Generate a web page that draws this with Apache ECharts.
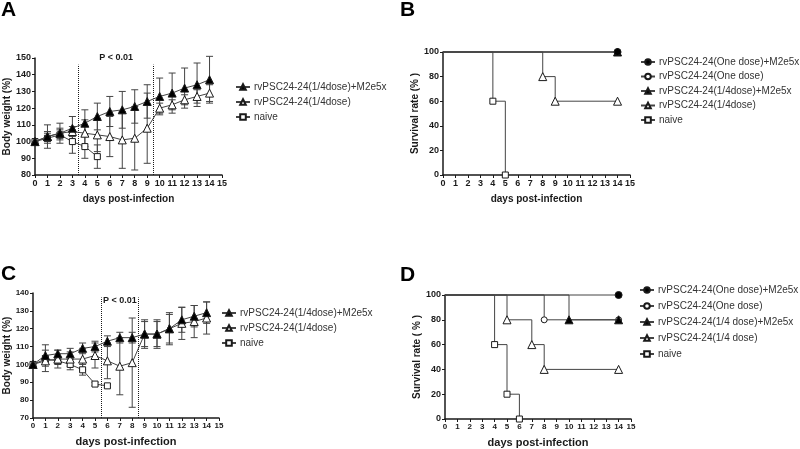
<!DOCTYPE html>
<html><head><meta charset="utf-8">
<script src="https://cdn.jsdelivr.net/npm/echarts@6/dist/echarts.min.js"></script>
<style>html,body{margin:0;padding:0;background:#fff}#c{width:800px;height:449px}</style>
</head><body><div id="c"></div>
<script>
// ---------- data ----------
const days = [0,1,2,3,4,5,6,7,8,9,10,11,12,13,14];
const xTicks = [0,1,2,3,4,5,6,7,8,9,10,11,12,13,14,15];

// Panel A: body weight (%)
const A_m2e    = [100,103,105,108,111,115,118,119,121,124,127,129,132,134,137];
const A_m2eSD  = [0,7,6,7,8,8,9,11,10,10,11,12,12,13,14];
const A_quart  = [100,103,105,106,105,104,103,101,102,108,120,122,125,127,129];
const A_quartSD= [0,3,3,3,8,10,12,17,19,21,3,3,3,4,5];
const A_naive  = [100,102,104,100,97,91];
const A_naiveSD= [0,3,3,7,7,7];

// Panel C: body weight (%)
const C_m2e    = [100,105,106,106,109,110,113,115,115,117,117,120,125,127,129];
const C_m2eSD  = [0,6,2,3,3,3,3,3,3,7,8,9,7,6,6];
const C_quart  = [100,102,103,103,103,105,102,99,101,117,117,120,123,124,126];
const C_quartSD= [0,6,5,4,6,7,10,16,25,8,7,8,9,9,9];
const C_naive  = [100,103,102,100,97,89,88];
const C_naiveSD= [0,2,2,3,3,1,1];

// Panel B: survival (%) - event days and values
const B_oneM2e_d = [0,14],        B_oneM2e_v = [100,100];
const B_one_d    = [0,14],        B_one_v    = [100,100];
const B_qM2e_d   = [0,14],        B_qM2e_v   = [100,100];
const B_q_d      = [0,8,9,14],    B_q_v      = [100,80,60,60];
const B_naive_d  = [0,4,5],       B_naive_v  = [100,60,0];

// Panel D: survival (%)
const D_oneM2e_d = [0,14],        D_oneM2e_v = [100,100];
const D_one_d    = [0,8,14],      D_one_v    = [100,80,80];
const D_qM2e_d   = [0,10,14],     D_qM2e_v   = [100,80,80];
const D_q_d      = [0,5,7,8,14],  D_q_v      = [100,80,60,40,40];
const D_naive_d  = [0,4,5,6],     D_naive_v  = [100,60,20,0];

const namesA = ['rvPSC24-24(1/4dose)+M2e5x','rvPSC24-24(1/4dose)','naive'];
const namesB = ['rvPSC24-24(One dose)+M2e5x','rvPSC24-24(One dose)','rvPSC24-24(1/4dose)+M2e5x','rvPSC24-24(1/4dose)','naive'];
const namesD = ['rvPSC24-24(One dose)+M2e5x','rvPSC24-24(One dose)','rvPSC24-24(1/4 dose)+M2e5x','rvPSC24-24(1/4 dose)','naive'];

// ---------- helpers ----------
const FONT = "'Liberation Sans', Arial, sans-serif";
const INK = '#1a1a1a', LINE = '#444';

function errSeries(gi, vals, sd, z) {
  return {
    type: 'custom', xAxisIndex: gi, yAxisIndex: gi, z: z, silent: true,
    data: vals.map((v,i)=>[days[i], v - sd[i], v + sd[i]]).filter((d,i)=>sd[i]>0),
    renderItem(params, api) {
      const x = api.value(0);
      const top = api.coord([x, api.value(2)]);
      const bot = api.coord([x, api.value(1)]);
      const w = 3.5, st = {stroke: LINE, lineWidth: 1};
      return {type:'group', children:[
        {type:'line', shape:{x1:top[0],y1:top[1],x2:bot[0],y2:bot[1]}, style:st},
        {type:'line', shape:{x1:top[0]-w,y1:top[1],x2:top[0]+w,y2:top[1]}, style:st},
        {type:'line', shape:{x1:bot[0]-w,y1:bot[1],x2:bot[0]+w,y2:bot[1]}, style:st}
      ]};
    }
  };
}
function wLine(gi, name, vals, symbol, fill, size, z, extra) {
  return Object.assign({
    type:'line', name, xAxisIndex:gi, yAxisIndex:gi, z:z,
    data: vals.map((v,i)=>[days[i], v]),
    symbol, symbolSize:size, showAllSymbol:true, clip:false,
    itemStyle:{color:fill, borderColor:INK, borderWidth:1},
    lineStyle:{color:LINE, width:1}
  }, extra||{});
}
function sLine(gi, name, d, v, symbol, fill, size, z) {
  return {
    type:'line', name, xAxisIndex:gi, yAxisIndex:gi, z:z, step:'end',
    data: d.map((x,i)=> i===0 ? {value:[x, v[i]], symbol:'none'} : {value:[x, v[i]]}),
    symbol, symbolSize:size, showAllSymbol:true, clip:false,
    itemStyle:{color:fill, borderColor:INK, borderWidth:1},
    lineStyle:{color:LINE, width:1}
  };
}
function xAx(gi, lblSize) {
  return {
    type:'value', gridIndex:gi, min:0, max:15, interval:1,
    name:'days post-infection', nameLocation:'middle', nameGap: lblSize===9?19:18,
    nameTextStyle:{fontFamily:FONT, fontWeight:'bold', fontSize: lblSize===9?10:11, color:INK},
    axisLine:{onZero:false, lineStyle:{color:INK, width:1.5}},
    axisTick:{length:3, lineStyle:{color:INK, width:1}},
    axisLabel:{margin:4, fontFamily:FONT, fontWeight:'bold', fontSize:lblSize, color:INK},
    splitLine:{show:false}
  };
}
function yAx(gi, min, max, interval, name, lblSize, gap) {
  return {
    type:'value', gridIndex:gi, min, max, interval,
    name, nameLocation:'middle', nameRotate:90, nameGap:gap,
    nameTextStyle:{fontFamily:FONT, fontWeight:'bold', fontSize:10, color:INK},
    axisLine:{show:true, onZero:false, lineStyle:{color:INK, width:1.5}},
    axisTick:{show:true, length:3, lineStyle:{color:INK, width:1}},
    axisLabel:{margin:4, fontFamily:FONT, fontWeight:'bold', fontSize:lblSize, color:INK},
    splitLine:{show:false}
  };
}
function legend(names, left, top, gap) {
  return {
    data:names, orient:'vertical', left, top, itemWidth:14, itemHeight:7, itemGap:gap,
    selectedMode:false, padding:0,
    textStyle:{fontFamily:FONT, fontSize:10, color:'#333', padding:[0,0,0,-1]}
  };
}
const dotted = {color:INK, width:1, type:'dotted'};

const option = {
  backgroundColor:'#fff',
  animation:false,
  title:[
    {text:'A', left:1, top:0},
    {text:'B', left:400, top:0},
    {text:'C', left:1, top:264},
    {text:'D', left:400, top:265}
  ].map(t=>Object.assign(t,{padding:0, textStyle:{fontFamily:FONT, fontWeight:'bold', fontSize:21, color:'#000'}})),
  grid:[
    {left:35, top:58, width:187, height:117},
    {left:443, top:52, width:187, height:123},
    {left:33, top:293, width:186, height:125},
    {left:445, top:295, width:186, height:125}
  ],
  xAxis:[xAx(0,9), xAx(1,9), xAx(2,8), xAx(3,8)],
  yAxis:[
    yAx(0,80,150,10,'Body weight (%)',9,22),
    yAx(1,0,100,20,'Survival rate (% )',9,20),
    yAx(2,70,140,10,'Body weight (%)',8,20),
    yAx(3,0,100,20,'Survival rate ( % )',9,20)
  ],
  legend:[
    legend(namesA, 235, 82, 5),
    legend(namesB, 640, 57, 4.5),
    legend(namesA, 221, 308, 5),
    legend(namesD, 639, 285, 6)
  ],
  series:[
    // Panel A
    errSeries(0, A_naive, A_naiveSD, 1),
    errSeries(0, A_quart, A_quartSD, 1),
    errSeries(0, A_m2e, A_m2eSD, 1),
    wLine(0, namesA[2], A_naive, 'rect', '#fff', 6, 3),
    wLine(0, namesA[1], A_quart, 'triangle', '#fff', 8, 4),
    wLine(0, namesA[0], A_m2e, 'triangle', '#000', 8, 5, {
      markLine:{silent:true, symbol:'none', label:{show:false}, lineStyle:dotted,
        data:[[{coord:[3.5,80]},{coord:[3.5,146]}],[{coord:[9.5,80]},{coord:[9.5,146]}]]},
      markPoint:{silent:true, symbol:'circle', symbolSize:1, itemStyle:{color:'rgba(0,0,0,0)'},
        label:{show:true, position:'inside', formatter:'P < 0.01', fontFamily:FONT, fontWeight:'bold', fontSize:9, color:INK},
        data:[{coord:[6.5,150]}]}
    }),
    // Panel B
    sLine(1, namesB[4], B_naive_d, B_naive_v, 'rect', '#fff', 6, 3),
    sLine(1, namesB[3], B_q_d, B_q_v, 'triangle', '#fff', 8, 4),
    sLine(1, namesB[1], B_one_d, B_one_v, 'circle', '#fff', 6, 5),
    sLine(1, namesB[2], B_qM2e_d, B_qM2e_v, 'triangle', '#000', 8, 6),
    sLine(1, namesB[0], B_oneM2e_d, B_oneM2e_v, 'circle', '#000', 7, 7),
    // Panel C
    errSeries(2, C_naive, C_naiveSD, 1),
    errSeries(2, C_quart, C_quartSD, 1),
    errSeries(2, C_m2e, C_m2eSD, 1),
    wLine(2, namesA[2], C_naive, 'rect', '#fff', 6, 3),
    wLine(2, namesA[1], C_quart, 'triangle', '#fff', 8, 4),
    wLine(2, namesA[0], C_m2e, 'triangle', '#000', 8, 5, {
      markLine:{silent:true, symbol:'none', label:{show:false}, lineStyle:dotted,
        data:[[{coord:[5.5,70]},{coord:[5.5,137.5]}],[{coord:[8.5,70]},{coord:[8.5,137.5]}]]},
      markPoint:{silent:true, symbol:'circle', symbolSize:1, itemStyle:{color:'rgba(0,0,0,0)'},
        label:{show:true, position:'inside', formatter:'P < 0.01', fontFamily:FONT, fontWeight:'bold', fontSize:9, color:INK},
        data:[{coord:[7,135.7]}]}
    }),
    // Panel D
    sLine(3, namesD[4], D_naive_d, D_naive_v, 'rect', '#fff', 6, 3),
    sLine(3, namesD[3], D_q_d, D_q_v, 'triangle', '#fff', 8, 4),
    sLine(3, namesD[1], D_one_d, D_one_v, 'circle', '#fff', 6, 5),
    sLine(3, namesD[2], D_qM2e_d, D_qM2e_v, 'triangle', '#000', 8, 6),
    sLine(3, namesD[0], D_oneM2e_d, D_oneM2e_v, 'circle', '#000', 7, 7)
  ]
};
const chart = echarts.init(document.getElementById('c'), null, {renderer:'canvas'});
chart.setOption(option);
</script>
</body></html>
